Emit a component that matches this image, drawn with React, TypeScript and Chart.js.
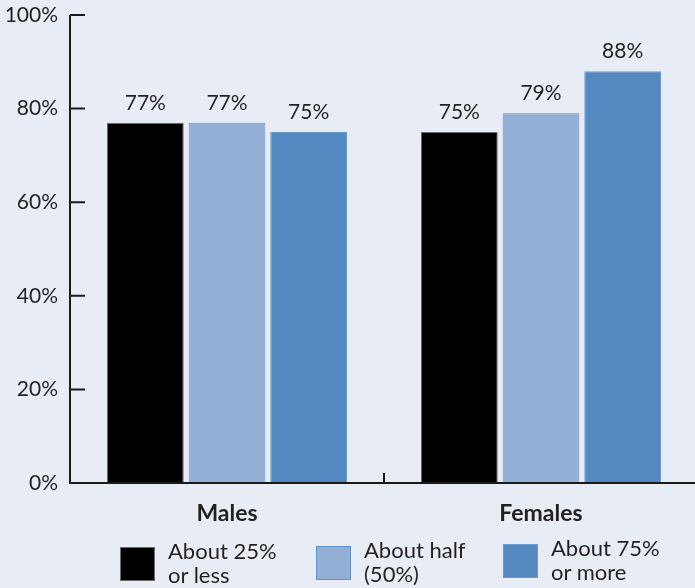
import React, { useEffect, useRef } from "react";
import { Chart, registerables } from "chart.js";

Chart.register(...registerables);

const categories = ["Males", "Females"];
const seriesNames = [["About 25%", "or less"], ["About half", "(50%)"], ["About 75%", "or more"]];
const lowShare = [77, 75];
const halfShare = [77, 79];
const highShare = [75, 88];
const yTicks = [0, 20, 40, 60, 80, 100];

const FONT = "Lato, 'Open Sans', sans-serif";
const TEXT = "#231f20";
const BG = "#e8edf5";
const fills = ["#000000", "#93afd6", "#5488c0"];
const borders = ["#6b6b6b", "#5f90c8", "#6a9acd"];

const axesPlugin = {
  id: "customAxes",
  afterDatasetsDraw(chart: any) {
    const { ctx, chartArea, scales } = chart;
    const x = scales.x;
    const y = scales.y;
    ctx.save();
    ctx.strokeStyle = "#1a1a1a";
    ctx.lineWidth = 2;
    ctx.beginPath();
    ctx.moveTo(chartArea.left, y.getPixelForValue(100));
    ctx.lineTo(chartArea.left, chartArea.bottom + 1);
    ctx.moveTo(chartArea.left - 1, chartArea.bottom);
    ctx.lineTo(chartArea.right, chartArea.bottom);
    yTicks.forEach((t) => {
      const py = y.getPixelForValue(t);
      ctx.moveTo(chartArea.left, py);
      ctx.lineTo(chartArea.left + 15, py);
    });
    const n = categories.length;
    for (let i = 0; i <= n; i++) {
      const px = i === 0 ? chartArea.left : i === n ? chartArea.right : (x.getPixelForValue(i - 1) + x.getPixelForValue(i)) / 2;
      ctx.moveTo(px, chartArea.bottom);
      ctx.lineTo(px, chartArea.bottom - 10);
    }
    ctx.stroke();

    ctx.fillStyle = TEXT;
    ctx.font = `21px ${FONT}`;
    ctx.textAlign = "center";
    ctx.textBaseline = "alphabetic";
    chart.data.datasets.forEach((ds: any, di: number) => {
      const meta = chart.getDatasetMeta(di);
      meta.data.forEach((el: any, i: number) => {
        ctx.fillText(ds.data[i] + "%", el.x, el.y - 13);
      });
    });
    ctx.restore();
  },
};

export default function App() {
  const ref = useRef<HTMLCanvasElement>(null);
  useEffect(() => {
    document.body.style.margin = "0";
    document.body.style.background = BG;
    const c = new Chart(ref.current!, {
      type: "bar",
      data: {
        labels: categories,
        datasets: [lowShare, halfShare, highShare].map((d, i) => ({
          label: seriesNames[i].join(" "),
          data: d,
          backgroundColor: fills[i],
          borderColor: borders[i],
          borderWidth: 1,
          categoryPercentage: 0.78,
          barPercentage: 0.94,
        })),
      },
      options: {
        responsive: false,
        animation: false,
        layout: { padding: { top: 15, right: 0, bottom: 0, left: 0 } },
        plugins: { legend: { display: false }, tooltip: { enabled: false } },
        scales: {
          x: {
            grid: { display: false, drawTicks: false },
            border: { display: false },
            ticks: { color: TEXT, font: { family: FONT, size: 23, weight: "bold" }, padding: 17 },
            afterFit: (s: any) => { s.height = 105; s.paddingLeft = 0; s.paddingRight = 0; },
          },
          y: {
            min: 0,
            max: 100,
            grid: { display: false, drawTicks: false },
            border: { display: false },
            ticks: {
              stepSize: 20,
              color: TEXT,
              font: { family: FONT, size: 21 },
              padding: 12,
              callback: (v: any) => v + "%",
            },
            afterFit: (s: any) => { s.width = 70; s.paddingTop = 0; s.paddingBottom = 0; },
          },
        },
      },
      plugins: [axesPlugin],
    });
    return () => c.destroy();
  }, []);

  const legendLeft = [120, 316, 503];
  const legendTop = [547, 546, 544];
  return (
    <div style={{ position: "relative", width: 695, height: 588, overflow: "hidden", background: BG }}>
      <canvas ref={ref} width={698} height={588} style={{ position: "absolute", left: 0, top: 0, width: 698, height: 588 }} />
      {seriesNames.map((lines, i) => (
        <div key={i} style={{ position: "absolute", left: legendLeft[i], top: legendTop[i], display: "flex", alignItems: "flex-start" }}>
          <div style={{ width: 33, height: 32, background: fills[i], border: `1px solid ${borders[i]}`, boxSizing: "content-box" as any }} />
          <div style={{ marginLeft: 13, marginTop: -8, fontFamily: FONT, fontSize: 22, lineHeight: "24px", color: TEXT }}>
            {lines.map((l, j) => (<div key={j}>{l}</div>))}
          </div>
        </div>
      ))}
    </div>
  );
}
